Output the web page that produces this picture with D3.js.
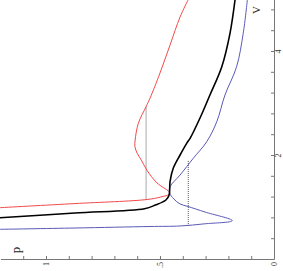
<!DOCTYPE html>
<html>
<head>
<meta charset="utf-8">
<script src="https://cdn.jsdelivr.net/npm/d3@7"></script>
<style>
  html, body { margin: 0; padding: 0; background: #fff; }
  svg { display: block; }
</style>
</head>
<body>
<svg id="chart" width="283" height="271"></svg>
<script>
// ---- data ----
const redV   = [0.987, 1.066, 1.144, 1.192, 1.25, 1.30, 1.462, 1.712, 1.904, 2.033, 2.160, 2.288, 2.610, 2.929, 3.090, 3.577, 4.115, 4.654, 4.981];
const redP   = [1.202, 0.873, 0.557, 0.497, 0.458, 0.462, 0.513, 0.558, 0.582, 0.600, 0.610, 0.609, 0.595, 0.561, 0.544, 0.500, 0.456, 0.412, 0.377];

const blackV = [0.794, 0.885, 0.967, 1.038, 1.135, 1.231, 1.487, 1.744, 2.0, 2.225, 2.321, 2.706, 3.154, 3.698, 4.340, 4.981];
const blackP = [1.202, 0.873, 0.568, 0.520, 0.474, 0.460, 0.456, 0.442, 0.412, 0.383, 0.368, 0.325, 0.281, 0.229, 0.193, 0.171];

const blueV  = [0.571, 0.596, 0.625, 0.635, 0.677, 0.737, 0.904, 1.010, 1.058, 1.154, 1.269, 1.390, 1.615, 1.937, 2.256, 2.640, 3.154, 3.698, 4.340, 4.981];
const blueP  = [1.202, 0.873, 0.544, 0.412, 0.303, 0.183, 0.303, 0.377, 0.412, 0.439, 0.458, 0.456, 0.412, 0.354, 0.295, 0.251, 0.215, 0.164, 0.135, 0.117];

// Maxwell (equal-area) lines: pressure level, V from, V to
const tieP   = [0.561, 0.376];
const tieV1  = [1.144, 0.635];
const tieV2  = [2.929, 1.904];

const vTicks = [0.4, 0.8, 1.2, 1.6, 2, 2.4, 2.8, 3.2, 3.6, 4, 4.4, 4.8];
const vLabels = [2, 4];
const pTicks = [0, 0.1, 0.2, 0.3, 0.4, 0.5, 0.6, 0.7, 0.8, 0.9, 1.0, 1.1];
const pLabels = { 0: "0", 0.5: ".5", 1: "1" };

// ---- layout: plot drawn rotated (V runs upward, p runs leftward) ----
const svg = d3.select("#chart");
const axX = 274, axY = 259;
const yV = d3.scaleLinear().domain([0, 5]).range([axY, axY - 260]);
const xP = d3.scaleLinear().domain([0, 1.2]).range([axX, axX - 273.6]);

svg.append("defs").append("clipPath").attr("id", "clip")
  .append("rect").attr("x", 0).attr("y", 0).attr("width", axX).attr("height", axY);

const plot = svg.append("g").attr("clip-path", "url(#clip)");

const line = d3.line()
  .x(d => xP(d[1]))
  .y(d => yV(d[0]))
  .curve(d3.curveCatmullRom.alpha(0.5));

// Maxwell lines (dotted)
tieP.forEach((p, i) => {
  plot.append("line")
    .attr("x1", xP(p)).attr("x2", xP(p))
    .attr("y1", yV(tieV1[i])).attr("y2", yV(tieV2[i]))
    .attr("stroke", "#555").attr("stroke-width", 1)
    .attr("stroke-dasharray", "1,1");
});

const series = [
  { V: redV, P: redP, color: "#f24a4a", w: 1 },
  { V: blueV, P: blueP, color: "#5a5ab8", w: 1 },
  { V: blackV, P: blackP, color: "#000", w: 1.6 }
];
series.forEach(s => {
  plot.append("path")
    .datum(s.V.map((v, i) => [v, s.P[i]]))
    .attr("fill", "none")
    .attr("stroke", s.color)
    .attr("stroke-width", s.w)
    .attr("d", line);
});

// ---- axes ----
const axisColor = "#777";
const gV = svg.append("g").attr("transform", `translate(${axX},0)`)
  .call(d3.axisRight(yV).tickValues(vTicks).tickSizeInner(-3).tickSizeOuter(0)
    .tickFormat(d => vLabels.some(l => Math.abs(l - d) < 1e-6) ? String(d) : ""));
const gP = svg.append("g").attr("transform", `translate(0,${axY})`)
  .call(d3.axisBottom(xP).tickValues(pTicks).tickSizeInner(-3).tickSizeOuter(0)
    .tickFormat(d => { const k = Math.round(d * 10) / 10; return pLabels[k] !== undefined ? pLabels[k] : ""; }));

[gV, gP].forEach(g => {
  g.select(".domain").attr("stroke", axisColor);
  g.selectAll(".tick line").attr("stroke", axisColor);
  g.selectAll(".tick text")
    .attr("font-family", "Liberation Serif, serif")
    .attr("font-size", 8)
    .attr("fill", "#333");
});

gV.selectAll(".tick text")
  .attr("x", 0).attr("y", 0).attr("dy", "0.35em")
  .attr("text-anchor", "middle")
  .attr("transform", "translate(4.5,0) rotate(-90)");

gP.selectAll(".tick text")
  .attr("x", 0).attr("y", 0).attr("dy", "0.35em")
  .attr("text-anchor", "end")
  .attr("transform", "translate(0,3) rotate(-90)");

// axis titles
svg.append("text")
  .attr("transform", "translate(16,250) rotate(-90)")
  .attr("dy", "0.3em")
  .attr("text-anchor", "middle")
  .attr("font-family", "Liberation Serif, serif")
  .attr("font-size", 13)
  .attr("fill", "#222")
  .text("p");

svg.append("text")
  .attr("transform", "translate(256,10) rotate(-90)")
  .attr("dy", "0.35em")
  .attr("text-anchor", "middle")
  .attr("font-family", "Liberation Serif, serif")
  .attr("font-size", 11)
  .attr("fill", "#222")
  .text("V");
</script>
</body>
</html>
